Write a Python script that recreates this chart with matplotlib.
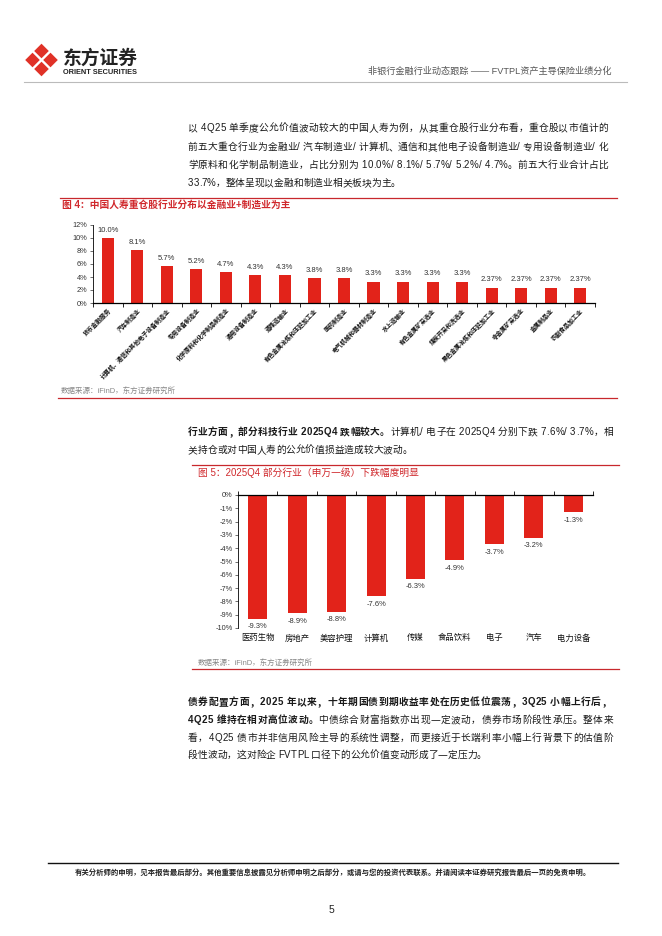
import matplotlib
matplotlib.use('Agg')
import matplotlib.pyplot as plt
from matplotlib.font_manager import FontProperties
from matplotlib.patches import Polygon
import numpy as np

# ---------------- data ----------------
cats1 = ['货币金融服务', '汽车制造业', '计算机、通信和其他电子设备制造业', '专用设备制造业',
         '化学原料和化学制品制造业', '通用设备制造业', '道路运输业', '有色金属冶炼和压延加工业',
         '医药制造业', '电气机械和器材制造业', '水上运输业', '有色金属矿采选业',
         '煤炭开采和洗选业', '黑色金属冶炼和压延加工业', '非金属矿采选业', '金属制品业',
         '农副食品加工业']
vals1 = [10.0, 8.1, 5.7, 5.2, 4.7, 4.3, 4.3, 3.8, 3.8, 3.3, 3.3, 3.3, 3.3, 2.37, 2.37, 2.37, 2.37]
labs1 = ['10.0%', '8.1%', '5.7%', '5.2%', '4.7%', '4.3%', '4.3%', '3.8%', '3.8%',
         '3.3%', '3.3%', '3.3%', '3.3%', '2.37%', '2.37%', '2.37%', '2.37%']
yticks1 = [0, 2, 4, 6, 8, 10, 12]
ylabs1 = ['0%', '2%', '4%', '6%', '8%', '10%', '12%']

cats2 = ['医药生物', '房地产', '美容护理', '计算机', '传媒', '食品饮料', '电子', '汽车', '电力设备']
vals2 = [-9.3, -8.9, -8.8, -7.6, -6.3, -4.9, -3.7, -3.2, -1.3]
labs2 = ['-9.3%', '-8.9%', '-8.8%', '-7.6%', '-6.3%', '-4.9%', '-3.7%', '-3.2%', '-1.3%']
yticks2 = [0, -1, -2, -3, -4, -5, -6, -7, -8, -9, -10]
ylabs2 = ['0%', '-1%', '-2%', '-3%', '-4%', '-5%', '-6%', '-7%', '-8%', '-9%', '-10%']

# ---------------- setup ----------------
W, H = 662, 936
FAM = ['Liberation Sans', 'Noto Sans CJK SC', 'DejaVu Sans']
plt.rcParams['font.family'] = FAM
RED = '#e2231a'
LINE_RED = '#c8282d'
TXT = '#1a1a1a'

fig = plt.figure(figsize=(W / 100, H / 100), dpi=100)
bg = fig.add_axes([0, 0, 1, 1])
bg.set_xlim(0, W)
bg.set_ylim(H, 0)
bg.axis('off')
renderer = fig.canvas.get_renderer()


def fp(size, weight='normal'):
    return FontProperties(family=FAM, size=size, weight=weight)


_cache = {}


def cw(ch, size, weight):
    key = (ch, size, weight)
    if key not in _cache:
        w, h, d = renderer.get_text_width_height_descent(ch, fp(size, weight), ismath=False)
        _cache[key] = w
    return _cache[key]


def draw_line(segs, x0, y, size, x1=None, color=TXT):
    chars = [(ch, wt) for text, wt in segs for ch in text]
    widths = [cw(ch, size, wt) for ch, wt in chars]
    natural = sum(widths)
    gap = 0.0
    if x1 is not None and len(chars) > 1:
        gap = (x1 - x0 - natural) / (len(chars) - 1)
    x = x0
    for (ch, wt), w in zip(chars, widths):
        if ch != ' ':
            bg.text(x, y, ch, fontproperties=fp(size, wt), color=color,
                    ha='left', va='center')
        x += w + gap


# ---------------- header ----------------
cx, cy, d, r = 41.5, 60, 9.0, 7.3
for ox, oy in [(0, -d), (-d, 0), (d, 0), (0, d)]:
    px, py = cx + ox, cy + oy
    bg.add_patch(Polygon([[px, py - r], [px + r, py], [px, py + r], [px - r, py]],
                         closed=True, color='#e03127', lw=0))
bg.text(63, 58, '东方证券', fontproperties=fp(13.5, 'bold'), color='#222222',
        ha='left', va='center')
bg.text(63, 72, 'ORIENT SECURITIES', fontproperties=fp(5.3, 'bold'), color='#222222',
        ha='left', va='center')
bg.text(612, 71, '非银行金融行业动态跟踪 —— FVTPL资产主导保险业绩分化',
        fontproperties=fp(6.6), color='#555555', ha='right', va='center')
bg.plot([24, 627], [81.5, 81.5], color='#bbbbbb', lw=0.8)

# ---------------- paragraph 1 ----------------
FS = 7.0
draw_line([('以 4Q25 单季度公允价值波动较大的中国人寿为例，从其重仓股行业分布看，重仓股以市值计的', 'normal')],
          188, 128, FS, 608)
draw_line([('前五大重仓行业为金融业/ 汽车制造业/ 计算机、通信和其他电子设备制造业/ 专用设备制造业/ 化', 'normal')],
          188, 147, FS, 608)
draw_line([('学原料和化学制品制造业，占比分别为 10.0%/ 8.1%/ 5.7%/ 5.2%/ 4.7%。前五大行业合计占比', 'normal')],
          188, 165, FS, 608)
draw_line([('33.7%，整体呈现以金融和制造业相关板块为主。', 'normal')], 188, 183, FS)

# ---------------- figure 4 ----------------
bg.plot([60, 617], [198, 198], color=LINE_RED, lw=0.9)
bg.text(62, 205, '图 4：中国人寿重仓股行业分布以金融业+制造业为主',
        fontproperties=fp(7.0, 'bold'), color='#d0282c', ha='left', va='center')

ax1 = fig.add_axes([93 / W, 1 - 303 / H, (595 - 93) / W, 78 / H])
x1 = np.arange(len(cats1))
ax1.bar(x1, vals1, width=0.41, color=RED, zorder=2)
ax1.set_xlim(-0.5, len(cats1) - 0.5)
ax1.set_ylim(0, 12)
ax1.set_yticks(yticks1)
ax1.set_yticklabels(ylabs1)
ax1.tick_params(axis='y', labelsize=5.3, length=2, width=0.5, pad=2, colors='#333333')
ax1.set_xticks(x1)
ax1.set_xticklabels(cats1, rotation=45, ha='right', rotation_mode='anchor',
                    fontproperties=fp(4.3, 'bold'), color='#111111')
ax1.set_xticks(np.arange(-0.5, len(cats1), 1.0), minor=True)
ax1.tick_params(axis='x', which='major', length=0, pad=3)
ax1.tick_params(axis='x', which='minor', length=3, width=0.6, direction='out')
for s in ['top', 'right']:
    ax1.spines[s].set_visible(False)
ax1.spines['left'].set_linewidth(0.6)
ax1.spines['bottom'].set_linewidth(0.9)
for xi, v, lab in zip(x1, vals1, labs1):
    ax1.annotate(lab, (xi, v), xytext=(0, 3.2), textcoords='offset points',
                 ha='center', va='bottom', fontsize=5.5, color='#333333')

bg.text(61, 391, '数据来源：iFinD，东方证券研究所', fontproperties=fp(5.4),
        color='#888888', ha='left', va='center')
bg.plot([58, 617], [397.5, 397.5], color=LINE_RED, lw=0.9)

# ---------------- paragraph 2 ----------------
draw_line([('行业方面，部分科技行业 2025Q4 跌幅较大。', 'bold'),
           ('计算机/ 电子在 2025Q4 分别下跌 7.6%/ 3.7%，相', 'normal')],
          188, 432, FS, 613)
draw_line([('关持仓或对中国人寿的公允价值损益造成较大波动。', 'normal')], 188, 450, FS)

# ---------------- figure 5 ----------------
bg.plot([192, 619], [465, 465], color=LINE_RED, lw=0.9)
bg.text(198, 473, '图 5：2025Q4 部分行业（申万一级）下跌幅度明显',
        fontproperties=fp(7.0), color='#d0282c', ha='left', va='center')

ax2 = fig.add_axes([238 / W, 1 - 628 / H, 355 / W, 133 / H])
x2 = np.arange(len(cats2))
ax2.bar(x2, vals2, width=0.48, color=RED, zorder=2)
ax2.set_xlim(-0.5, len(cats2) - 0.5)
ax2.set_ylim(-10, 0)
ax2.set_yticks(yticks2)
ax2.set_yticklabels(ylabs2)
ax2.tick_params(axis='y', labelsize=5.3, length=2, width=0.5, pad=2, colors='#333333')
ax2.set_xticks(x2)
ax2.set_xticklabels(cats2, fontproperties=fp(6.0), color='#111111')
ax2.set_xticks(np.arange(-0.5, len(cats2), 1.0), minor=True)
ax2.tick_params(axis='x', which='major', bottom=True, top=False, length=0, pad=4.5)
ax2.tick_params(axis='x', which='minor', bottom=False, top=True, length=3, width=0.6,
                direction='out')
for s in ['bottom', 'right']:
    ax2.spines[s].set_visible(False)
ax2.spines['left'].set_linewidth(0.6)
ax2.spines['top'].set_linewidth(0.9)
for xi, v, lab in zip(x2, vals2, labs2):
    ax2.annotate(lab, (xi, v), xytext=(0, -3.2), textcoords='offset points',
                 ha='center', va='top', fontsize=5.4, color='#333333')

bg.text(198, 663, '数据来源：iFinD，东方证券研究所', fontproperties=fp(5.4),
        color='#888888', ha='left', va='center')
bg.plot([192, 619], [669, 669], color=LINE_RED, lw=0.9)

# ---------------- paragraph 3 ----------------
draw_line([('债券配置方面，2025 年以来，十年期国债到期收益率处在历史低位震荡，3Q25 小幅上行后，', 'bold')],
          188, 702, FS, 611)
draw_line([('4Q25 维持在相对高位波动。', 'bold'),
           ('中债综合财富指数亦出现一定波动，债券市场阶段性承压。整体来', 'normal')],
          188, 720, FS, 613)
draw_line([('看，4Q25 债市并非信用风险主导的系统性调整，而更接近于长端利率小幅上行背景下的估值阶', 'normal')],
          188, 738, FS, 613)
draw_line([('段性波动，这对险企 FVTPL 口径下的公允价值变动形成了一定压力。', 'normal')], 188, 755, FS)

# ---------------- footer ----------------
bg.plot([48, 618], [863, 863], color='#111111', lw=1.0)
bg.text(333, 873, '有关分析师的申明，见本报告最后部分。其他重要信息披露见分析师申明之后部分，或请与您的投资代表联系。并请阅读本证券研究报告最后一页的免责申明。',
        fontproperties=fp(5.3, 'bold'), color='#222222', ha='center', va='center')
bg.text(331, 910, '5', fontproperties=fp(7.5), color='#222222', ha='center', va='center')

fig.savefig('out.png', dpi=100)
